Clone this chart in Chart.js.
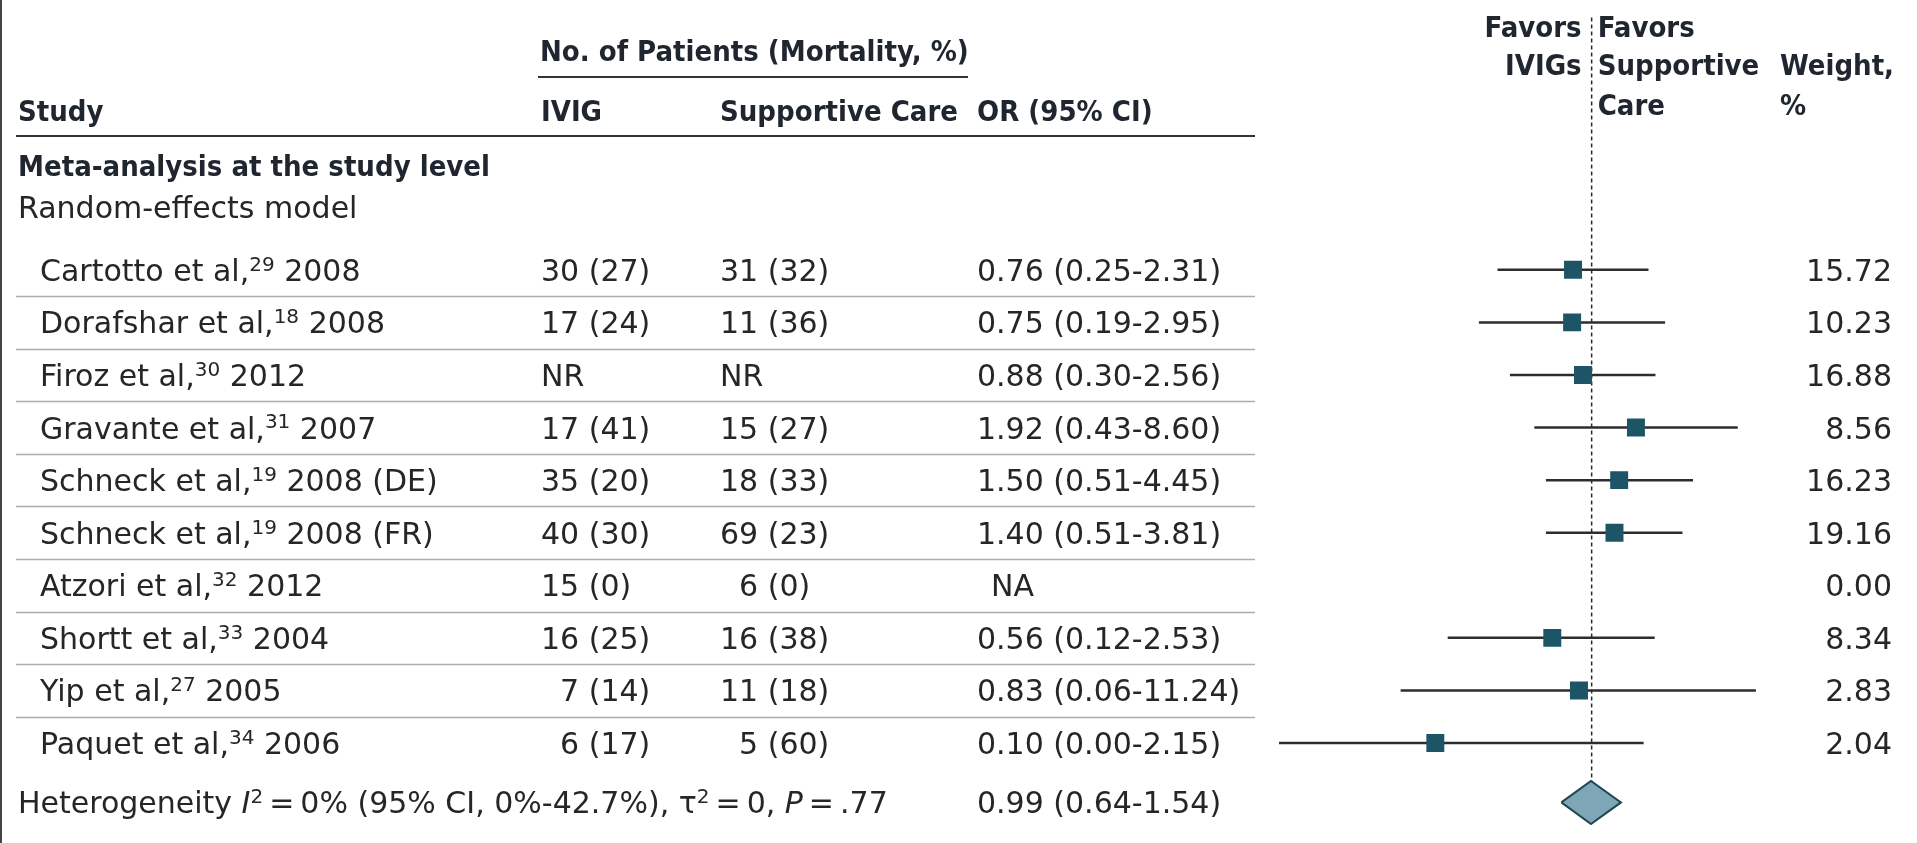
<!DOCTYPE html>
<html>
<head>
<meta charset="utf-8">
<script src="https://cdn.jsdelivr.net/npm/chart.js@4.4.1/dist/chart.umd.min.js"></script>
<style>
  html, body { margin: 0; padding: 0; background: #fff; }
  #wrap { position: relative; width: 1917px; height: 843px; }
</style>
</head>
<body>
<div id="wrap"><canvas id="forest" width="1917" height="843"></canvas></div>
<script>
// study rows
const studyNames = ['Cartotto et al,', 'Dorafshar et al,', 'Firoz et al,', 'Gravante et al,', 'Schneck et al,',
  'Schneck et al,', 'Atzori et al,', 'Shortt et al,', 'Yip et al,', 'Paquet et al,'];
const studyRefs = ['29', '18', '30', '31', '19', '19', '32', '33', '27', '34'];
const studyYears = ['2008', '2008', '2012', '2007', '2008 (DE)', '2008 (FR)', '2012', '2004', '2005', '2006'];

// No. of patients (mortality, %), null = NR
const ivigN = [30, 17, null, 17, 35, 40, 15, 16, 7, 6];
const ivigMort = [27, 24, null, 41, 20, 30, 0, 25, 14, 17];
const supN = [31, 11, null, 15, 18, 69, 6, 16, 11, 5];
const supMort = [32, 36, null, 27, 33, 23, 0, 38, 18, 60];

// odds ratios (null = NA)
const orEst = [0.76, 0.75, 0.88, 1.92, 1.50, 1.40, null, 0.56, 0.83, 0.10];
const ciLow = [0.25, 0.19, 0.30, 0.43, 0.51, 0.51, null, 0.12, 0.06, 0.00];
const ciHigh = [2.31, 2.95, 2.56, 8.60, 4.45, 3.81, null, 2.53, 11.24, 2.15];
const weights = [15.72, 10.23, 16.88, 8.56, 16.23, 19.16, 0.00, 8.34, 2.83, 2.04];

// pooled random-effects estimate
const pooledOR = 0.99;
const pooledLow = 0.64;
const pooledHigh = 1.54;

// row slots on the y axis (summary sits a bit lower than a regular step)
const rowPos = [0, 1, 2, 3, 4, 5, 6, 7, 8, 9];
const summaryPos = 10.13;

// x axis range (log)
const xMin = 0.01;
const xMax = 100;

const INK = '#262626';
const HEAD_INK = '#1f2630';
const REG_FAM = '"DejaVu Sans", sans-serif';
const BOLD_FAM = '"DejaVu Sans Condensed", "DejaVu Sans", sans-serif';
const REG = '30px ' + REG_FAM;
const BOLD = 'bold 29px ' + BOLD_FAM;

// column x positions
const COL_STUDY = 18;
const COL_NAME = 40;
const COL_IVIG = 541;
const COL_SUP = 720;
const COL_OR = 977;
const COL_WT_R = 1892;
const COL_WT_HEAD = 1780;

function fmtCount(n, m) {
  if (n === null) return 'NR';
  return n + ' (' + m + ')';
}
function fmtOR(o, l, h) {
  if (o === null) return 'NA';
  return o.toFixed(2) + ' (' + l.toFixed(2) + '-' + h.toFixed(2) + ')';
}

// draw a run of text pieces; piece = {t, sup, it}
function drawRich(ctx, parts, x, y, fam, size) {
  let cx = x;
  parts.forEach(p => {
    let fs = p.sup ? Math.round(size * 0.66) : size;
    ctx.font = (p.it ? 'italic ' : '') + fs + 'px ' + fam;
    let dy = p.sup ? -size * 0.34 : 0;
    ctx.fillText(p.t, cx, y + dy);
    cx += ctx.measureText(p.t).width;
  });
}

// table text, rules and header, drawn through the y scale for row centres
const tablePlugin = {
  id: 'tableText',
  afterDraw(chart) {
    const ctx = chart.ctx;
    const ys = chart.scales.y;
    const xs = chart.scales.x;
    const base = 11; // centre -> baseline
    ctx.save();
    ctx.textBaseline = 'alphabetic';

    // left border of the panel
    ctx.strokeStyle = '#444';
    ctx.lineWidth = 2;
    ctx.beginPath(); ctx.moveTo(1, 0); ctx.lineTo(1, 843); ctx.stroke();

    // header
    ctx.fillStyle = HEAD_INK;
    ctx.font = BOLD;
    ctx.textAlign = 'left';
    ctx.fillText('No. of Patients (Mortality, %)', 540, 50 + base);
    ctx.fillText('Study', COL_STUDY, 110 + base);
    ctx.fillText('IVIG', COL_IVIG, 110 + base);
    ctx.fillText('Supportive Care', COL_SUP, 110 + base);
    ctx.fillText('OR (95% CI)', COL_OR, 110 + base);
    ctx.fillText('Meta-analysis at the study level', COL_STUDY, 165 + base);

    const x1 = xs.getPixelForValue(1);
    ctx.textAlign = 'right';
    ctx.fillText('Favors', x1 - 10, 26 + base);
    ctx.fillText('IVIGs', x1 - 10, 64 + base);
    ctx.textAlign = 'left';
    ctx.fillText('Favors', x1 + 6, 26 + base);
    ctx.fillText('Supportive', x1 + 6, 64 + base);
    ctx.fillText('Care', x1 + 6, 104 + base);
    ctx.fillText('Weight,', COL_WT_HEAD, 64 + base);
    ctx.fillText('%', COL_WT_HEAD, 104 + base);

    ctx.strokeStyle = '#333';
    ctx.lineWidth = 2;
    ctx.beginPath(); ctx.moveTo(538, 77); ctx.lineTo(968, 77); ctx.stroke();
    ctx.beginPath(); ctx.moveTo(16, 136); ctx.lineTo(1255, 136); ctx.stroke();

    ctx.fillStyle = INK;
    ctx.font = REG;
    ctx.fillText('Random-effects model', COL_STUDY, 207 + base);

    // row separators
    ctx.strokeStyle = '#adadad';
    ctx.lineWidth = 1.5;
    for (let i = 0; i < rowPos.length - 1; i++) {
      const yy = Math.round(ys.getPixelForValue(rowPos[i] + 0.5)) + 0.5;
      ctx.beginPath(); ctx.moveTo(16, yy); ctx.lineTo(1255, yy); ctx.stroke();
    }

    ctx.font = REG;
    const digitW = ctx.measureText('0').width;
    rowPos.forEach((p, i) => {
      const y = ys.getPixelForValue(p) + base;
      ctx.textAlign = 'left';
      drawRich(ctx, [{ t: studyNames[i] }, { t: studyRefs[i], sup: true }, { t: ' ' + studyYears[i] }], COL_NAME, y, REG_FAM, 30);
      ctx.font = REG;
      ctx.fillText(fmtCount(ivigN[i], ivigMort[i]), COL_IVIG + (ivigN[i] !== null && ivigN[i] < 10 ? digitW : 0), y);
      ctx.fillText(fmtCount(supN[i], supMort[i]), COL_SUP + (supN[i] !== null && supN[i] < 10 ? digitW : 0), y);
      ctx.fillText(fmtOR(orEst[i], ciLow[i], ciHigh[i]), orEst[i] === null ? COL_OR + 14 : COL_OR, y);
      ctx.textAlign = 'right';
      ctx.fillText(weights[i].toFixed(2), COL_WT_R, y);
    });

    // summary row
    const ySum = ys.getPixelForValue(summaryPos) + base;
    ctx.textAlign = 'left';
    drawRich(ctx, [
      { t: 'Heterogeneity ' }, { t: 'I', it: true }, { t: '2', sup: true },
      { t: '\u2009=\u20090% (95% CI, 0%-42.7%), \u03c4' }, { t: '2', sup: true },
      { t: '\u2009=\u20090, ' }, { t: 'P', it: true }, { t: '\u2009=\u2009.77' }
    ], COL_STUDY, ySum, REG_FAM, 30);
    ctx.font = REG;
    ctx.fillText(fmtOR(pooledOR, pooledLow, pooledHigh), COL_OR, ySum);
    ctx.restore();
  }
};

// datasets: reference line, CI whiskers, study squares, pooled diamond
const datasets = [];

datasets.push({
  data: [{ x: 1, y: -4.8 }, { x: 1, y: summaryPos - 0.38 }],
  showLine: true, borderColor: '#2a2a2a', borderWidth: 1.5, borderDash: [4, 3],
  pointRadius: 0, order: 3
});

rowPos.forEach((p, i) => {
  if (orEst[i] === null) return;
  datasets.push({
    data: [{ x: Math.max(ciLow[i], xMin), y: p }, { x: ciHigh[i], y: p }],
    showLine: true, borderColor: '#2d2d2d', borderWidth: 2.5,
    pointRadius: 0, order: 2
  });
});

datasets.push({
  data: rowPos.map((p, i) => orEst[i] === null ? null : { x: orEst[i], y: p }).filter(d => d),
  pointStyle: 'rect', pointRadius: 12.7, backgroundColor: '#1d5566', borderWidth: 0,
  showLine: false, order: 1
});

datasets.push({
  data: [
    { x: pooledLow, y: summaryPos }, { x: pooledOR, y: summaryPos - 0.41 },
    { x: pooledHigh, y: summaryPos }, { x: pooledOR, y: summaryPos + 0.41 },
    { x: pooledLow, y: summaryPos }
  ],
  showLine: true, fill: 'shape', backgroundColor: '#7fa6b7', borderColor: '#1f4653',
  borderWidth: 2, pointRadius: 0, tension: 0, order: 0
});

new Chart(document.getElementById('forest'), {
  type: 'scatter',
  data: { datasets: datasets },
  options: {
    responsive: false,
    animation: false,
    devicePixelRatio: 1,
    layout: { padding: { left: 1279, right: 2, top: 0, bottom: 0 } },
    scales: {
      x: { type: 'logarithmic', min: xMin, max: xMax, display: false },
      y: { type: 'linear', min: -4.89, max: 10.66, reverse: true, display: false }
    },
    plugins: {
      legend: { display: false },
      tooltip: { enabled: false }
    }
  },
  plugins: [tablePlugin]
});
</script>
</body>
</html>
